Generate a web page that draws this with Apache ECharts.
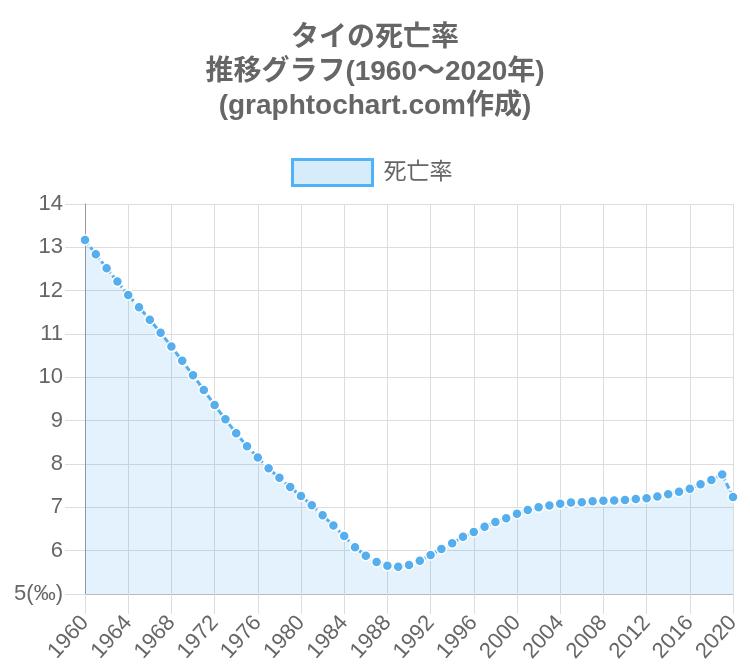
<!DOCTYPE html>
<html><head><meta charset="utf-8">
<script src="https://cdn.jsdelivr.net/npm/echarts@6/dist/echarts.min.js"></script>
<style>html,body{margin:0;padding:0;background:#fff}#c{width:750px;height:666px}</style>
</head><body><div id="c"></div>
<script>
const years = [];
for (let y = 1960; y <= 2020; y++) years.push(String(y));
const deathRate = [
13.17,12.84,12.52,12.21,11.90,11.62,11.33,11.03,10.71,10.38,
10.05,9.71,9.36,9.03,8.71,8.41,8.15,7.90,7.68,7.47,
7.26,7.05,6.82,6.58,6.34,6.08,5.88,5.74,5.65,5.63,
5.67,5.77,5.90,6.04,6.17,6.32,6.43,6.55,6.66,6.75,
6.85,6.94,7.00,7.04,7.08,7.11,7.12,7.14,7.15,7.16,
7.17,7.19,7.21,7.25,7.30,7.36,7.43,7.53,7.63,7.76,
7.24];
const yTicks = [5,6,7,8,9,10,11,12,13,14];
const titleText = 'タイの死亡率\n推移グラフ(1960～2020年)\n(graphtochart.com作成)';
const seriesName = '死亡率';
const FONT = '"Liberation Sans","Noto Sans CJK JP",sans-serif';
const chart = echarts.init(document.getElementById('c'));
chart.setOption({
  animation: false,
  textStyle: {fontFamily: FONT},
  title: {
    text: titleText, left: 'center', top: 16,
    textStyle: {fontSize: 28, fontWeight: 'bold', color: '#666', lineHeight: 34, fontFamily: FONT}
  },
  legend: {
    left: 286, top: 153, itemWidth: 80, itemHeight: 26,
    textStyle: {fontSize: 23, color: '#666', fontFamily: FONT, padding: [0,0,0,6]},
    data: [{name: seriesName, icon: 'rect', itemStyle: {color: '#d6ecfb', borderColor: '#4fb3f6', borderWidth: 3}}]
  },
  grid: {left: 85, right: 17, top: 204, bottom: 72},
  xAxis: {
    type: 'category', data: years, boundaryGap: false,
    axisLine: {lineStyle: {color: '#bbb', width: 1}},
    axisTick: {show: true, interval: 3, length: 20, lineStyle: {color: '#ddd'}},
    axisLabel: {interval: 3, rotate: 48, fontSize: 22, color: '#666', margin: 25, fontFamily: FONT},
    splitLine: {show: true, interval: 3, lineStyle: {color: '#ddd', width: 1}}
  },
  yAxis: {
    type: 'value', min: yTicks[0], max: yTicks[yTicks.length-1], interval: 1,
    axisLine: {show: true, lineStyle: {color: '#999', width: 1}},
    axisTick: {show: true, length: 20, lineStyle: {color: '#ddd'}},
    axisLabel: {fontSize: 22, color: '#666', margin: 22, fontFamily: FONT,
      formatter: v => v === yTicks[0] ? v + '(‰)' : String(v)},
    splitLine: {show: true, lineStyle: {color: '#ddd', width: 1}}
  },
  series: [{
    name: seriesName, type: 'line', data: deathRate,
    symbol: 'circle', symbolSize: 10, showSymbol: true, showAllSymbol: true,
    itemStyle: {color: '#55aeee', borderColor: '#fff', borderWidth: 1.5},
    lineStyle: {color: '#55aeee', width: 3, type: [6, 3]},
    areaStyle: {color: 'rgba(54,162,235,0.2)', origin: 'start'}
  }]
});
</script></body></html>
